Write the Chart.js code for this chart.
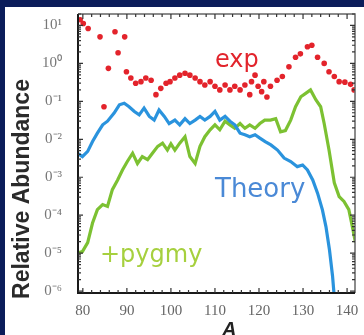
<!DOCTYPE html>
<html>
<head>
<meta charset="utf-8">
<script src="https://cdn.jsdelivr.net/npm/chart.js@4"></script>
<style>
  html, body { margin: 0; padding: 0; }
  body { background: #0b1d5a; width: 364px; height: 335px; overflow: hidden; position: relative; }
  #panel { position: absolute; left: 5px; top: 7px; width: 359px; height: 328px; background: #fff; }
  canvas { display: block; }
</style>
</head>
<body>
<div id="panel"><canvas id="abundance" width="359" height="328"></canvas></div>
<script>
// mass number A and relative abundance
const expA = [79.4, 80.1, 81.2, 83.9, 84.8, 85.8, 87.3, 88.0, 89.5, 89.9, 90.9, 92.0, 93.2, 94.3, 95.5, 96.6, 97.7, 98.9, 99.8, 100.9,
  102.0, 103.2, 104.3, 105.5, 106.6, 107.7, 108.9, 110.0, 111.1, 112.3, 113.4, 114.5, 115.7, 116.8, 117.9, 118.3, 119.1, 119.8, 120.6,
  121.1, 121.8, 122.6, 124.1, 125.3, 126.8, 128.3, 129.4, 131.0, 132.0, 133.3, 134.8, 135.9, 137.1, 138.2, 139.5, 140.8, 141.6];
const expVal = [14.1, 11.2, 8.3, 5.0, 0.072, 0.74, 6.8, 1.9, 5.0, 0.60, 0.41, 0.30, 0.33, 0.41, 0.36, 0.15, 0.22, 0.30, 0.33, 0.41,
  0.49, 0.55, 0.49, 0.41, 0.33, 0.27, 0.33, 0.25, 0.20, 0.27, 0.20, 0.25, 0.20, 0.27, 0.15, 0.33, 0.49, 0.25, 0.18,
  0.33, 0.13, 0.25, 0.36, 0.45, 0.81, 1.45, 1.78, 2.75, 3.0, 1.45, 1.0, 0.60, 0.45, 0.33, 0.32, 0.28, 0.20];

const theoryA = [78.8, 79.9, 81.1, 82.2, 83.3, 84.5, 85.6, 87.1, 88.3, 89.4, 90.5, 91.7, 92.8, 93.9, 95.1, 96.2, 97.3, 98.5, 99.6,
  100.9, 102.0, 103.2, 104.3, 105.5, 106.6, 107.7, 108.9, 110.0, 111.1, 112.3, 113.4, 114.5, 115.7, 116.8, 117.9, 119.1, 120.2,
  121.4, 122.7, 124.2, 125.7, 127.2, 128.7, 129.9, 131.0, 132.2, 133.3, 134.4, 135.2, 136.0, 136.7, 137.2];
const theoryVal = [0.0043, 0.0035, 0.0048, 0.0087, 0.0145, 0.024, 0.030, 0.049, 0.081, 0.089, 0.072, 0.054, 0.044, 0.066, 0.040, 0.032, 0.059, 0.040, 0.026,
  0.032, 0.024, 0.035, 0.026, 0.032, 0.040, 0.032, 0.040, 0.054, 0.032, 0.040, 0.030, 0.024, 0.0145, 0.0132, 0.0117, 0.0132, 0.0107,
  0.0087, 0.0071, 0.0052, 0.0032, 0.0026, 0.0019, 0.0021, 0.00155, 0.00085, 0.00038, 0.000138, 0.00005, 0.0000123, 0.0000025, 0.0000005];

const pygmyA = [78.8, 79.9, 81.1, 82.2, 83.3, 84.5, 85.6, 86.7, 87.9, 89.0, 90.1, 91.3, 92.4, 93.5, 94.7, 95.8, 97.0, 98.1, 99.2, 100.0,
  100.9, 102.0, 103.2, 104.3, 105.5, 106.6, 107.7, 108.9, 110.0, 111.1, 112.3, 113.4, 114.5, 115.7, 116.8, 117.9, 119.1, 120.2,
  121.3, 122.6, 123.8, 124.9, 126.0, 127.2, 128.3, 129.5, 130.6, 131.7, 132.9, 134.0, 134.8, 135.9, 137.1, 138.2, 139.3, 140.4,
  141.2, 141.9, 142.6];
const pygmyVal = [1.0e-5, 1.1e-5, 1.9e-5, 6.2e-5, 1.4e-4, 1.9e-4, 1.7e-4, 4.7e-4, 8.5e-4, 1.55e-3, 2.6e-3, 4.3e-3, 2.3e-3, 3.5e-3, 2.9e-3, 4.3e-3, 6.5e-3, 7.9e-3, 5.2e-3, 7.6e-3,
  5.2e-3, 7.9e-3, 0.0117, 3.5e-3, 2.3e-3, 6.5e-3, 0.0117, 0.0178, 0.024, 0.0178, 0.030, 0.024, 0.0195, 0.026, 0.0195, 0.024, 0.0195, 0.026,
  0.032, 0.032, 0.035, 0.0158, 0.017, 0.032, 0.072, 0.132, 0.162, 0.20, 0.11, 0.072, 0.026, 5.2e-3, 7.1e-4, 3.1e-4, 2.3e-4, 1.4e-4,
  5.0e-5, 1.9e-5, 6.3e-6];

const xTicks = [80, 90, 100, 110, 120, 130, 140];
const yTicks = [1e-6, 1e-5, 1e-4, 1e-3, 1e-2, 1e-1, 1, 10];
const yTickLabels = ['0⁻⁶', '0⁻⁵', '0⁻⁴', '0⁻³', '0⁻²', '0⁻¹', '10⁰', '10¹'];

const pts = (xs, ys) => xs.map((x, i) => ({ x: x, y: ys[i] }));

// box round the plot with little inward ticks
const frame = {
  id: 'frame',
  afterDraw(chart) {
    const { ctx, chartArea: a, scales } = chart;
    const xs = scales.x, ys = scales.y;
    ctx.save();
    ctx.strokeStyle = '#666';
    ctx.lineWidth = 1.5;
    ctx.beginPath();
    ctx.moveTo(a.left, a.top); ctx.lineTo(a.right, a.top); ctx.lineTo(a.right, a.bottom);
    ctx.stroke();
    ctx.strokeStyle = '#1a1a1a';
    ctx.lineWidth = 2;
    ctx.beginPath();
    ctx.moveTo(a.left, a.top); ctx.lineTo(a.left, a.bottom); ctx.lineTo(a.right, a.bottom);
    ctx.stroke();

    ctx.lineWidth = 1.2;
    ctx.strokeStyle = '#333';
    ctx.beginPath();
    for (let v = 80; v <= 141; v += 2) {
      const px = xs.getPixelForValue(v);
      const len = v % 10 === 0 ? 5 : 3;
      ctx.moveTo(px, a.bottom); ctx.lineTo(px, a.bottom - len);
      ctx.moveTo(px, a.top); ctx.lineTo(px, a.top + len);
    }
    yTicks.forEach(d => {
      for (let m = 1; m <= 9; m++) {
        const py = ys.getPixelForValue(d * m);
        if (py < a.top || py > a.bottom) continue;
        const len = m === 1 ? 5 : 3;
        ctx.moveTo(a.left, py); ctx.lineTo(a.left + len, py);
        ctx.moveTo(a.right, py); ctx.lineTo(a.right - len, py);
      }
    });
    ctx.stroke();
    ctx.restore();
  }
};

const labels = {
  id: 'labels',
  afterDraw(chart) {
    const ctx = chart.ctx;
    ctx.save();
    ctx.textAlign = 'left';
    ctx.textBaseline = 'alphabetic';
    ctx.font = '24px "DejaVu Sans"';
    ctx.fillStyle = '#e2242c';
    ctx.fillText('exp', 210, 60);
    ctx.font = '26px "DejaVu Sans"';
    ctx.fillStyle = '#4a89d6';
    ctx.fillText('Theory', 210, 190);
    ctx.font = '24px "DejaVu Sans"';
    ctx.fillStyle = '#a6d03e';
    ctx.fillText('+pygmy', 95, 255);

    ctx.font = 'italic bold 20px "Liberation Sans"';
    ctx.fillStyle = '#222';
    ctx.fillText('A', 217, 329);

    ctx.translate(18, 182);
    ctx.rotate(-Math.PI / 2);
    ctx.textAlign = 'center';
    ctx.textBaseline = 'middle';
    ctx.font = 'bold 23px "Liberation Sans"';
    ctx.fillStyle = '#2a2a2a';
    ctx.fillText('Relative Abundance', 0, 0);
    ctx.restore();
  }
};

const ctx = document.getElementById('abundance').getContext('2d');

new Chart(ctx, {
  type: 'scatter',
  data: {
    datasets: [
      {
        label: 'Theory',
        data: pts(theoryA, theoryVal),
        showLine: true,
        borderColor: '#2a93dd',
        borderWidth: 3.2,
        pointRadius: 0,
        clip: 0
      },
      {
        label: '+pygmy',
        data: pts(pygmyA, pygmyVal),
        showLine: true,
        borderColor: '#7cc132',
        borderWidth: 3.2,
        pointRadius: 0,
        clip: 0
      },
      {
        label: 'exp',
        data: pts(expA, expVal),
        backgroundColor: '#e3232b',
        borderWidth: 0,
        pointRadius: 2.8,
        clip: 0
      }
    ]
  },
  options: {
    responsive: false,
    animation: false,
    layout: { padding: { top: 7, right: 9, left: 0, bottom: 0 } },
    plugins: {
      legend: { display: false },
      tooltip: { enabled: false }
    },
    scales: {
      x: {
        type: 'linear',
        min: 78.9,
        max: 141.8,
        afterBuildTicks: s => { s.ticks = xTicks.map(v => ({ value: v })); },
        afterFit: s => { s.height = 42; s.paddingLeft = 0; s.paddingRight = 0; },
        grid: { display: false, drawTicks: false },
        border: { display: false },
        ticks: {
          autoSkip: false,
          maxRotation: 0,
          padding: 9,
          color: '#666',
          font: { family: '"Liberation Serif"', size: 15 },
          callback: v => String(v)
        }
      },
      y: {
        type: 'logarithmic',
        min: 8.9e-7,
        max: 20,
        afterBuildTicks: s => { s.ticks = yTicks.map(v => ({ value: v })); },
        afterFit: s => { s.width = 73; s.paddingTop = 0; s.paddingBottom = 0; },
        grid: { display: false, drawTicks: false },
        border: { display: false },
        ticks: {
          autoSkip: false,
          padding: 16,
          color: '#777',
          font: { family: '"Liberation Serif"', size: 15 },
          callback: (v, i) => yTickLabels[i]
        }
      }
    }
  },
  plugins: [frame, labels]
});
</script>
</body>
</html>
